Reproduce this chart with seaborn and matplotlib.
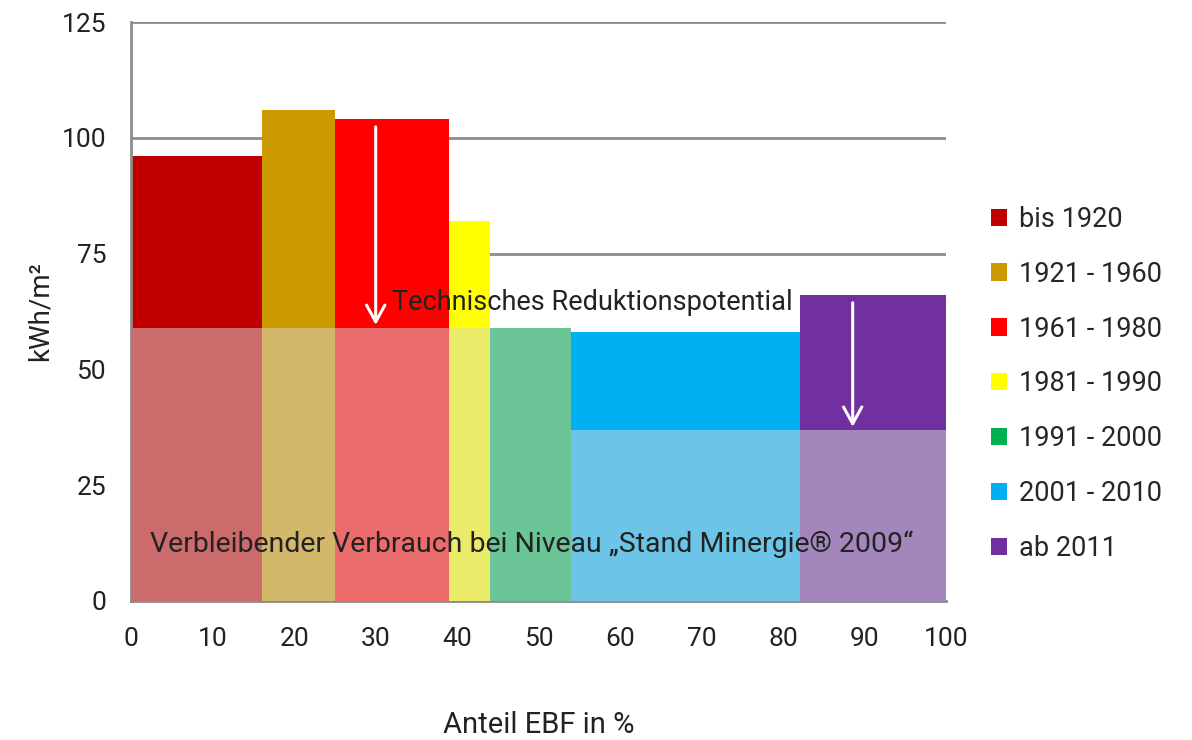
import numpy as np
import matplotlib
matplotlib.use("Agg")
import matplotlib.pyplot as plt
import seaborn as sns
from matplotlib.patches import Patch

# Building age classes and their share of heated floor area (EBF)
categories = ["bis 1920", "1921 - 1960", "1961 - 1980", "1981 - 1990",
              "1991 - 2000", "2001 - 2010", "ab 2011"]
share_pct = [16, 9, 14, 5, 10, 28, 18]
consumption = [96, 106, 104, 82, 59, 58, 66]
remaining = [59, 59, 59, 59, 59, 37, 37]

colors_top = ["#C00000", "#CC9900", "#FF0000", "#FFFF00",
              "#00B050", "#00B0F0", "#7030A0"]
colors_low = ["#CB6B6B", "#D3B86B", "#EB6C6C", "#EBEB6A",
              "#6CC597", "#6CC4E6", "#A386BC"]

arrow_x = [30, 88.5]
arrow_from = [103, 65]
arrow_to = [59, 37]

sns.set_theme(style="white")
plt.rcParams["font.family"] = ["Roboto", "DejaVu Sans"]

fig = plt.figure(figsize=(11.92, 7.40), dpi=100)
ax = fig.add_axes([0.110, 0.188, 0.684, 0.782])

lefts = np.concatenate([[0], np.cumsum(share_pct)[:-1]])

# horizontal grid behind the bars
for y in [25, 50, 75, 100, 125]:
    ax.axhline(y, color="#8c8c8c", lw=2, zorder=0)

ax.bar(lefts, consumption, width=share_pct, align="edge",
       color=colors_top, linewidth=0, zorder=2)
ax.bar(lefts, remaining, width=share_pct, align="edge",
       color=colors_low, linewidth=0, zorder=3)

for x, y0, y1 in zip(arrow_x, arrow_from, arrow_to):
    ax.annotate("", xy=(x, y1), xytext=(x, y0),
                arrowprops=dict(arrowstyle="->,head_length=1.0,head_width=0.55",
                                color="white", lw=2.2),
                zorder=5)

ax.text(32, 64.5, "Technisches Reduktionspotential", fontsize=19.5,
        color="#222222", va="center", ha="left", zorder=6)
ax.text(2.3, 12.3, "Verbleibender Verbrauch bei Niveau \u201eStand Minergie\u00ae 2009\u201c",
        fontsize=20.5, color="#222222", va="center", ha="left", zorder=6)

ax.set_xlim(0, 100)
ax.set_ylim(0, 125)
ax.set_xticks(range(0, 101, 10))
ax.set_yticks(range(0, 126, 25))
ax.tick_params(axis="both", labelsize=19, colors="#222222",
               width=2, direction="out", color="#8c8c8c")
ax.tick_params(axis="x", length=7, pad=12)
ax.tick_params(axis="y", length=11, pad=7)
for side in ["top", "right"]:
    ax.spines[side].set_visible(False)
for side in ["left", "bottom"]:
    ax.spines[side].set_color("#8c8c8c")
    ax.spines[side].set_linewidth(2)

ax.set_ylabel("kWh/m\u00b2", fontsize=20, color="#222222", labelpad=6)
fig.text(0.452, 0.02, "Anteil EBF in %", fontsize=21, color="#222222",
         ha="center", va="center")

handles = [Patch(facecolor=c, edgecolor="none") for c in colors_top]
fig.legend(handles, categories, loc="upper left", bbox_to_anchor=(0.831, 0.722),
           frameon=False, fontsize=19.5, handlelength=0.6, handleheight=0.6,
           handletextpad=0.45, labelspacing=1.03, borderaxespad=0, borderpad=0)

fig.savefig("out.png", dpi=100)
